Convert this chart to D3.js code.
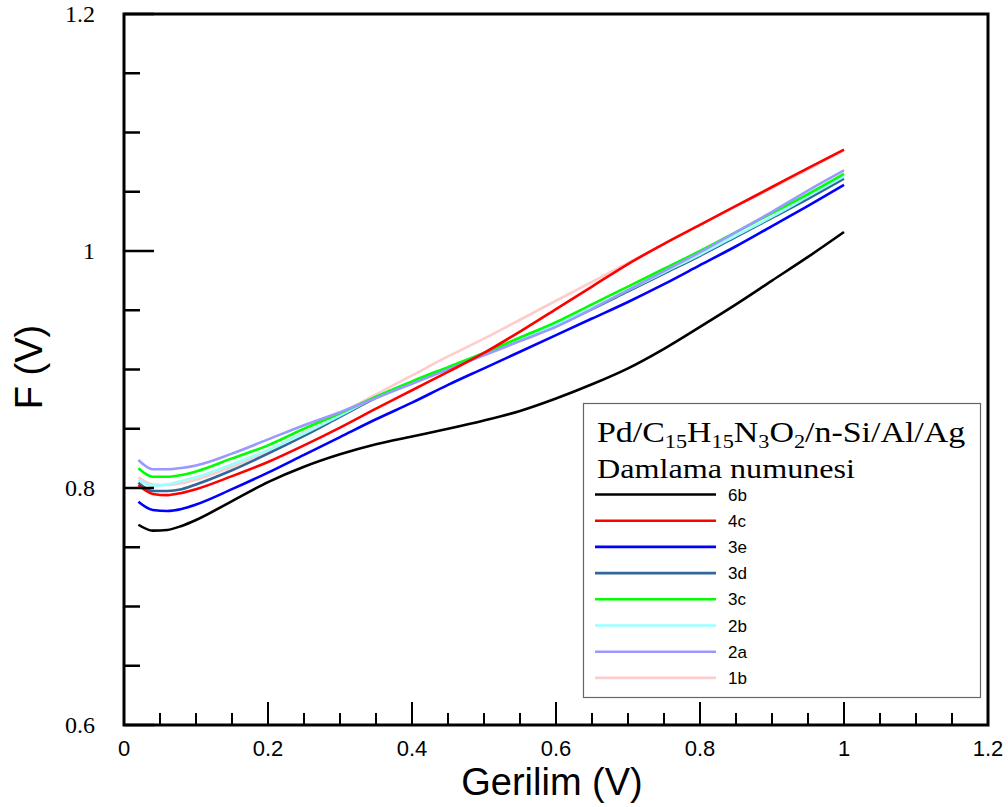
<!DOCTYPE html>
<html>
<head>
<meta charset="utf-8">
<script src="https://cdn.jsdelivr.net/npm/d3@7"></script>
<style>
  body { margin: 0; background: #fff; }
  svg { display: block; }
</style>
</head>
<body>
<svg class="chart"></svg>
<script>
const width = 1008;
const height = 807;

// Gerilim (V) sample points
const voltage = [0.02, 0.04, 0.06, 0.08, 0.10, 0.15, 0.20, 0.25, 0.30, 0.35, 0.40, 0.45,
	0.50, 0.55, 0.60, 0.65, 0.70, 0.75, 0.80, 0.85, 0.90, 0.95, 1.00];

// F (V) for each sample
const f6b = [0.769, 0.764, 0.7646, 0.768, 0.773, 0.789, 0.805, 0.818, 0.8285, 0.837, 0.8435, 0.850,
	0.857, 0.865, 0.8755, 0.8875, 0.901, 0.9175, 0.936, 0.955, 0.975, 0.995, 1.016];
const f4c = [0.8025, 0.795, 0.794, 0.7958, 0.799, 0.810, 0.822, 0.836, 0.851, 0.867, 0.8825, 0.898,
	0.914, 0.932, 0.951, 0.970, 0.989, 1.006, 1.022, 1.038, 1.054, 1.070, 1.0855];
const f3e = [0.7884, 0.7814, 0.7806, 0.7823, 0.786, 0.799, 0.813, 0.828, 0.843, 0.858, 0.872, 0.887,
	0.901, 0.915, 0.929, 0.943, 0.957, 0.972, 0.988, 1.004, 1.021, 1.038, 1.0557];
const f3d = [0.8045, 0.7975, 0.7975, 0.799, 0.803, 0.815, 0.829, 0.844, 0.860, 0.876, 0.889, 0.901,
	0.913, 0.925, 0.937, 0.951, 0.966, 0.981, 0.996, 1.012, 1.028, 1.044, 1.061];
const f3c = [0.8166, 0.8095, 0.8095, 0.811, 0.814, 0.825, 0.836, 0.850, 0.863, 0.877, 0.890, 0.902,
	0.914, 0.927, 0.940, 0.955, 0.970, 0.985, 1.000, 1.016, 1.032, 1.048, 1.065];
const f2b = [0.8068, 0.802, 0.803, 0.806, 0.809, 0.820, 0.832, 0.846, 0.861, 0.877, 0.890, 0.902,
	0.914, 0.926, 0.938, 0.952, 0.967, 0.982, 0.997, 1.013, 1.029, 1.046, 1.063];
const f2a = [0.8236, 0.8158, 0.8158, 0.8169, 0.819, 0.829, 0.841, 0.853, 0.864, 0.876, 0.888, 0.900,
	0.912, 0.924, 0.936, 0.951, 0.967, 0.983, 0.999, 1.016, 1.033, 1.051, 1.068];
const f1b = [0.809, 0.803, 0.8025, 0.804, 0.807, 0.818, 0.831, 0.847, 0.863, 0.879, 0.895, 0.911,
	0.926, 0.942, 0.958, 0.974, 0.990, 1.006, 1.022, 1.038, 1.053, 1.069, 1.085];

const sampleNames = ['6b', '4c', '3e', '3d', '3c', '2b', '2a', '1b'];
const sampleColors = ['#000000', '#ff0000', '#0000ff', '#336699', '#00ff00', '#99ffff', '#9999ff', '#ffcccc'];
const sampleValues = [f6b, f4c, f3e, f3d, f3c, f2b, f2a, f1b];

const xTicks = [0, 0.2, 0.4, 0.6, 0.8, 1, 1.2];
const yTicks = [0.6, 0.8, 1, 1.2];

const serif = '"Liberation Serif", "Times New Roman", serif';
const sans = '"Liberation Sans", Arial, sans-serif';

const svg = d3.select('svg.chart')
	.attr('width', width)
	.attr('height', height);

svg.append('rect').attr('width', width).attr('height', height).attr('fill', '#fff');

const x = d3.scaleLinear().domain([0, 1.2]).range([124, 988]);
const y = d3.scaleLinear().domain([0.6, 1.2]).range([725, 14]);

// curves
const series = sampleNames.map((name, i) => ({
	name,
	color: sampleColors[i],
	points: voltage.map((v, j) => [v, sampleValues[i][j]])
}));

const line = d3.line()
	.x(d => x(d[0]))
	.y(d => y(d[1]))
	.curve(d3.curveMonotoneX);

// pink first so red stays visible where they meet
const drawOrder = [7, 0, 2, 3, 5, 4, 6, 1];
svg.append('g')
	.selectAll('path')
	.data(drawOrder.map(i => series[i]))
	.enter().append('path')
		.attr('d', d => line(d.points))
		.attr('fill', 'none')
		.attr('stroke', d => d.color)
		.attr('stroke-width', 2.6)
		.attr('stroke-linejoin', 'round');

// ticks
const xMinor = d3.range(0, 1.2001, 0.05);
const yMinor = d3.range(0.6, 1.2001, 0.05);

svg.append('g')
	.selectAll('line')
	.data(xMinor)
	.enter().append('line')
		.attr('x1', d => x(d))
		.attr('x2', d => x(d))
		.attr('y1', y(0.6))
		.attr('y2', (d, i) => y(0.6) - (i % 4 === 0 ? 23 : 12))
		.attr('stroke', '#000')
		.attr('stroke-width', 2);

svg.append('g')
	.selectAll('line')
	.data(yMinor)
	.enter().append('line')
		.attr('y1', d => y(d))
		.attr('y2', d => y(d))
		.attr('x1', x(0))
		.attr('x2', (d, i) => x(0) + (i % 4 === 0 ? 30 : 16))
		.attr('stroke', '#000')
		.attr('stroke-width', 2.5);

// frame
svg.append('rect')
	.attr('x', x(0))
	.attr('y', y(1.2))
	.attr('width', x(1.2) - x(0))
	.attr('height', y(0.6) - y(1.2))
	.attr('fill', 'none')
	.attr('stroke', '#000')
	.attr('stroke-width', 3);

// tick labels
svg.append('g')
	.selectAll('text')
	.data(xTicks)
	.enter().append('text')
		.attr('x', d => x(d))
		.attr('y', 756)
		.attr('text-anchor', 'middle')
		.style('font-family', sans)
		.style('font-size', '22px')
		.text(d => d3.format('~g')(d));

svg.append('g')
	.selectAll('text')
	.data(yTicks)
	.enter().append('text')
		.attr('x', 95)
		.attr('y', d => y(d) + 8)
		.attr('text-anchor', 'end')
		.style('font-family', serif)
		.style('font-size', '24px')
		.text(d => d3.format('~g')(d));

// axis titles
svg.append('text')
	.attr('x', 552)
	.attr('y', 795)
	.attr('text-anchor', 'middle')
	.style('font-family', sans)
	.style('font-size', '38px')
	.text('Gerilim (V)');

svg.append('text')
	.attr('transform', 'translate(42, 367) rotate(-90)')
	.attr('text-anchor', 'middle')
	.style('font-family', sans)
	.style('font-size', '38px')
	.text('F (V)');

// legend
const legend = svg.append('g').attr('class', 'legend');

legend.append('rect')
	.attr('x', 583.5)
	.attr('y', 403.5)
	.attr('width', 397)
	.attr('height', 294)
	.attr('fill', '#fff')
	.attr('stroke', '#666')
	.attr('stroke-width', 1.2);

const title = legend.append('text')
	.attr('transform', 'translate(597, 442) scale(1.17, 1)')
	.style('font-family', serif)
	.style('font-size', '29px');

const titleParts = [['Pd/C', false], ['15', true], ['H', false], ['15', true], ['N', false],
	['3', true], ['O', false], ['2', true], ['/n-Si/Al/Ag', false]];
titleParts.forEach((p, i) => {
	const prevSub = i > 0 && titleParts[i - 1][1];
	const t = title.append('tspan').text(p[0]);
	if (p[1]) t.attr('dy', 6).style('font-size', '19px');
	else if (prevSub) t.attr('dy', -6);
});

legend.append('text')
	.attr('transform', 'translate(597, 478) scale(1.17, 1)')
	.style('font-family', serif)
	.style('font-size', '27.5px')
	.text('Damlama numunesi');

const entry = legend.selectAll('g.entry')
	.data(series)
	.enter().append('g')
		.attr('class', 'entry')
		.attr('transform', (d, i) => `translate(0, ${494.5 + i * 26.2})`);

entry.append('line')
	.attr('x1', 595)
	.attr('x2', 716)
	.attr('stroke', d => d.color)
	.attr('stroke-width', 2.6);

entry.append('text')
	.attr('x', 728)
	.attr('y', 6)
	.style('font-family', sans)
	.style('font-size', '17px')
	.text(d => d.name);
</script>
</body>
</html>
